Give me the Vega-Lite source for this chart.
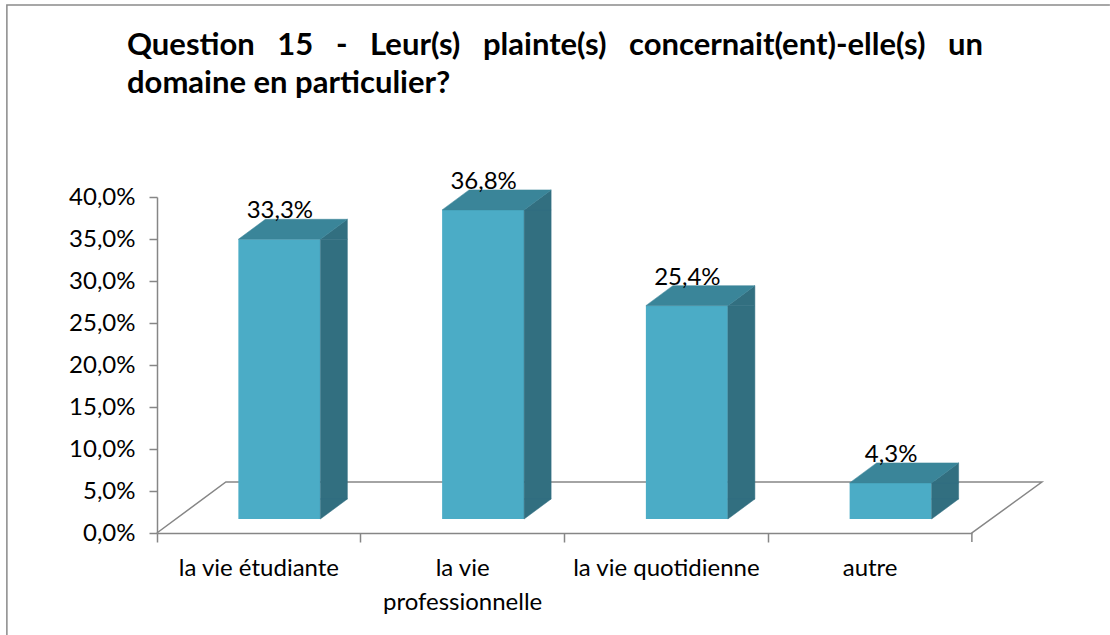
{
  "$schema": "https://vega.github.io/schema/vega-lite/v6.json",
  "autosize": "none",
  "width": 815,
  "height": 336,
  "padding": {"left": 157, "top": 197, "right": 138, "bottom": 102},
  "background": "white",
  "config": {
    "font": "Lato",
    "view": {"stroke": null},
    "locale": {"number": {"decimal": ",", "thousands": "\u00a0", "grouping": [3], "currency": ["", "\u00a0€"]}}
  },
  "title": {
    "text": ["Question\u00a0\u00a0\u00a015\u00a0\u00a0\u00a0-\u00a0\u00a0\u00a0Leur(s)\u00a0\u00a0\u00a0plainte(s)\u00a0\u00a0\u00a0concernait(ent)-elle(s)\u00a0\u00a0\u00a0un", "domaine en particulier?"],
    "anchor": "start",
    "frame": "group",
    "dx": -30,
    "dy": 122,
    "offset": 0,
    "baseline": "alphabetic",
    "fontSize": 31,
    "fontWeight": "bold",
    "color": "black",
    "lineHeight": 38
  },
  "data": {
    "values": [
      {"cat": "la vie étudiante", "v": 0.333},
      {"cat": "la vie professionnelle", "v": 0.368},
      {"cat": "la vie quotidienne", "v": 0.254},
      {"cat": "autre", "v": 0.043}
    ]
  },
  "encoding": {
    "x": {
      "field": "cat", "type": "nominal", "sort": null,
      "scale": {"paddingInner": 0, "paddingOuter": 0},
      "axis": {
        "title": null, "labelAngle": 0, "labelFontSize": 24, "labelColor": "black",
        "labelPadding": 14, "labelLimit": 0, "labelLineHeight": 34,
        "labelExpr": "datum.label == 'la vie professionnelle' ? ['la vie', 'professionnelle'] : datum.label",
        "bandPosition": 0, "tickSize": 9, "tickColor": "#868686", "tickWidth": 1.5,
        "domainColor": "#868686", "domainWidth": 1.5, "grid": false
      }
    }
  },
  "layer": [
    {
      "data": {"values": [{"cat": "la vie étudiante", "v": 0}]},
      "mark": {"type": "point", "shape": "M 851 -528 L -252 -528 L -252 110", "size": 4, "filled": false, "stroke": "#8a8a8a", "strokeWidth": 1.5, "opacity": 1},
      "encoding": {"y": {"field": "v", "type": "quantitative"}}
    },
    {
      "data": {"values": [{"cat": "la vie étudiante", "v": 0}]},
      "mark": {"type": "point", "shape": "M -102 0 L -33 -51 L 783 -51 L 713 0 L 713 9", "size": 4, "filled": false, "stroke": "#868686", "strokeWidth": 1.5, "opacity": 1},
      "encoding": {"y": {"field": "v", "type": "quantitative"}}
    },
    {
      "mark": {"type": "bar", "width": 82, "xOffset": 20.5, "yOffset": -14, "y2Offset": -14, "color": "#4BACC6"},
      "encoding": {
        "y": {
          "field": "v", "type": "quantitative",
          "scale": {"domain": [0, 0.4], "nice": false},
          "axis": {
            "title": null, "values": [0, 0.05, 0.1, 0.15, 0.2, 0.25, 0.3, 0.35, 0.4], "format": ".1%",
            "labelFontSize": 24, "labelColor": "black", "labelPadding": 14, "tickSize": 8,
            "tickColor": "#868686", "tickWidth": 1.5, "domainColor": "#868686", "domainWidth": 1.5, "grid": false
          }
        },
        "y2": {"datum": 0}
      }
    },
    {
      "mark": {"type": "bar", "width": 27, "xOffset": 75, "yOffset": -14, "y2Offset": -34, "color": "#326F80", "stroke": "#326F80", "strokeWidth": 0.5},
      "encoding": {"y": {"field": "v", "type": "quantitative"}, "y2": {"datum": 0}}
    },
    {
      "mark": {"type": "point", "shape": "M 61.5 -14 L 88.5 -34 L 88.5 -14 Z", "size": 4, "filled": true, "color": "#326F80", "stroke": "#326F80", "strokeWidth": 0.5, "opacity": 1},
      "encoding": {"y": {"field": "v", "type": "quantitative"}}
    },
    {
      "mark": {"type": "point", "shape": "M 61.5 -14 L 61.5 -34 L 88.5 -34 Z", "size": 4, "filled": true, "color": "#326F80", "stroke": "#326F80", "strokeWidth": 0.5, "opacity": 1},
      "encoding": {"y": {"datum": 0, "type": "quantitative"}}
    },
    {
      "mark": {"type": "point", "shape": "M -20.5 -14 L 61.5 -14 L 88.5 -34 L 6.5 -34 Z", "size": 4, "filled": true, "color": "#3A8599", "stroke": "#3A8599", "strokeWidth": 0.5, "opacity": 1},
      "encoding": {"y": {"field": "v", "type": "quantitative"}}
    },
    {
      "mark": {"type": "text", "dx": 21, "dy": -35, "baseline": "alphabetic", "align": "center", "fontSize": 24, "color": "black"},
      "encoding": {
        "y": {"field": "v", "type": "quantitative"},
        "text": {"field": "v", "type": "quantitative", "format": ".1%"}
      }
    }
  ]
}
